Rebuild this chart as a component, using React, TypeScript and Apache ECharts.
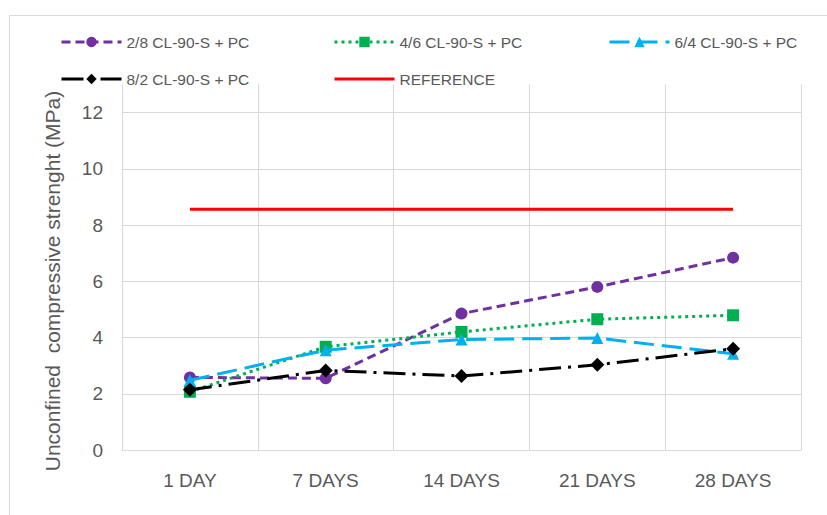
import React, { useEffect, useRef } from "react";
import * as echarts from "echarts";

const categories = ["1 DAY", "7 DAYS", "14 DAYS", "21 DAYS", "28 DAYS"];
const seriesNames = [
  "2/8 CL-90-S + PC",
  "4/6 CL-90-S + PC",
  "6/4 CL-90-S + PC",
  "8/2 CL-90-S + PC",
  "REFERENCE",
];
const mix28 = [2.58, 2.55, 4.85, 5.8, 6.84];
const mix46 = [2.07, 3.67, 4.2, 4.65, 4.79];
const mix64 = [2.48, 3.55, 3.93, 3.98, 3.42];
const mix82 = [2.14, 2.83, 2.63, 3.03, 3.6];
const referenceValues = [8.56, 8.56, 8.56, 8.56, 8.56];
const yAxisTitle = "Unconfined  compressive strenght (MPa)";

const FONT = "'Liberation Sans', Arial, sans-serif";
const GRID = "#d9d9d9";
const TEXT = "#595959";

export default function App() {
  const ref = useRef<HTMLDivElement>(null);
  useEffect(() => {
    document.body.style.margin = "0";
    if (!ref.current) return;
    const chart = echarts.init(ref.current, null, { renderer: "svg" });

    const legendPos = [
      [60, 34],
      [333, 34],
      [608, 34],
      [60, 71],
      [333, 71],
    ];

    const seriesData = [mix28, mix46, mix64, mix82, referenceValues];
    const colors = ["#7030A0", "#00B050", "#00B0F0", "#000000", "#FF0000"];
    const dashes: any[] = [[9, 5], [3, 4], [20, 8], [22, 7, 3, 7], "solid"];
    const symbols = ["circle", "rect", "triangle", "diamond", "none"];
    const sizes = [12, 12, 12, 14, 0];

    chart.setOption({
      animation: false,
      backgroundColor: "#ffffff",
      textStyle: { fontFamily: FONT },
      grid: { left: 122, right: 26, top: 84.4, bottom: 65, containLabel: false },
      legend: seriesNames.map((n, i) => ({
        data: [
          i === 4
            ? { name: n, itemStyle: { opacity: 0 } }
            : { name: n },
        ],
        left: legendPos[i][0],
        top: legendPos[i][1],
        padding: 0,
        itemWidth: 60,
        itemHeight: 13,
        itemGap: 5,
        lineStyle: { width: 3 },
        textStyle: { color: TEXT, fontSize: 15.5, fontFamily: FONT },
      })),
      xAxis: {
        type: "category",
        data: categories,
        boundaryGap: true,
        axisLine: { show: true, lineStyle: { color: GRID, width: 1 } },
        axisTick: { show: false },
        splitLine: { show: true, lineStyle: { color: GRID, width: 1 } },
        axisLabel: { color: TEXT, fontSize: 19, margin: 21, fontFamily: FONT },
      },
      yAxis: {
        type: "value",
        min: 0,
        max: 13,
        interval: 2,
        axisLine: { show: false },
        axisTick: { show: false },
        axisLabel: {
          color: TEXT,
          fontSize: 19,
          margin: 19,
          fontFamily: FONT,
          formatter: (v: number) => (v % 2 === 0 ? String(v) : ""),
        },
        splitLine: {
          show: true,
          showMaxLine: false,
          lineStyle: {
            color: [GRID, GRID, GRID, GRID, GRID, GRID, GRID, "rgba(0,0,0,0)"],
            width: 1,
          },
        },
      },
      graphic: [
        {
          type: "rect",
          left: 7,
          top: 13,
          silent: true,
          z: -10,
          shape: { width: 840, height: 520 },
          style: { fill: "none", stroke: GRID, lineWidth: 1 },
        },
        {
          type: "text",
          x: 52,
          y: 281,
          rotation: Math.PI / 2,
          style: {
            text: yAxisTitle,
            fill: TEXT,
            font: `21px ${FONT}`,
            align: "center",
            verticalAlign: "middle",
          },
        },
      ],
      series: seriesNames.map((n, i) => ({
        name: n,
        type: "line",
        data: seriesData[i],
        symbol: symbols[i],
        symbolSize: sizes[i],
        showSymbol: symbols[i] !== "none",
        z: i === 4 ? 1 : 2 + i,
        lineStyle: { color: colors[i], width: 3, type: dashes[i] },
        itemStyle: { color: colors[i], borderWidth: 0 },
        emphasis: { disabled: true },
      })),
    });
    return () => chart.dispose();
  }, []);
  return <div ref={ref} style={{ width: 827, height: 515 }} />;
}
